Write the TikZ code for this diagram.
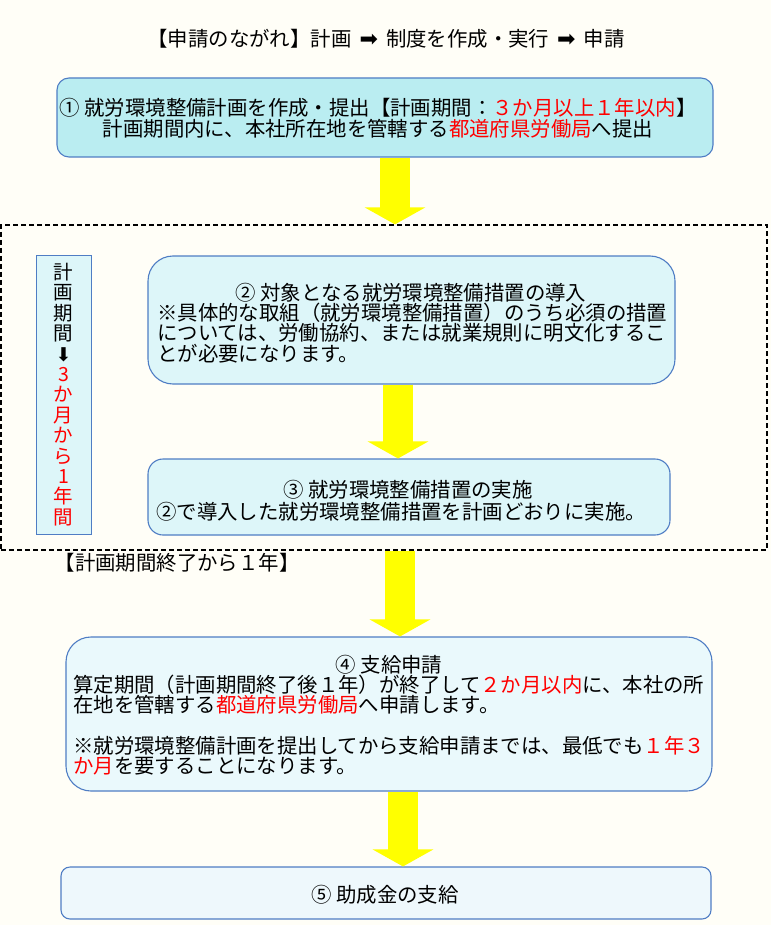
\documentclass[tikz,border=0pt]{standalone}
\usepackage{fontspec}
\setmainfont{Noto Sans CJK JP}
\newfontfamily\symfont{DejaVu Sans}
\usetikzlibrary{arrows.meta}
\definecolor{bgc}{RGB}{255,254,247}
\definecolor{bordc}{RGB}{79,125,196}
\definecolor{fillA}{RGB}{186,237,241}
\definecolor{fillB}{RGB}{221,246,249}
\definecolor{fillC}{RGB}{234,249,252}
\definecolor{fillD}{RGB}{238,248,252}
\definecolor{yarr}{RGB}{255,255,0}
\newcommand{\tarr}{\hspace{8pt}{\symfont\fontsize{22}{22}\selectfont ➡}\hspace{8pt}}
\tikzset{
  box/.style={draw=bordc, line width=1.1pt, rounded corners=#1, inner sep=0pt, shape=rectangle},
  txt/.style={inner sep=0pt, font=\fontsize{20.4}{20.5}\selectfont},
  bigarrow/.style={draw=yarr, line width=30pt, -{Triangle[width=60pt,length=17pt]}},
}
\begin{document}
\begin{tikzpicture}[x=1pt,y=-1pt]
\useasboundingbox (0,0) rectangle (771,925);
\fill[bgc] (0,0) rectangle (771,925);

% title
\node[txt] (title) at (386,39) {【申請のながれ】計画\tarr 制度を作成・実行\tarr 申請};

% box 1
\node[box=12, fill=fillA, minimum width=656pt, minimum height=79pt] (b1) at (385,117.5) {};
\node[txt, align=center] (t1) at (378,118) {① 就労環境整備計画を作成・提出【計画期間：\textcolor{red}{３か月以上１年以内}】\\計画期間内に、本社所在地を管轄する\textcolor{red}{都道府県労働局}へ提出};

% dashed frame
\node[draw=black, line width=1.2pt, dash pattern=on 5pt off 3pt, minimum width=766pt, minimum height=325pt, inner sep=0pt] (frame) at (384,387.5) {};

% vertical box
\node[draw=bordc, line width=1pt, fill=fillB, minimum width=55pt, minimum height=279pt, inner sep=0pt] (vbox) at (63.5,394.5) {};
\node[inner sep=0pt, align=center, font=\fontsize{19.5}{20.4}\selectfont] (vt) at (63.5,394.5) {計\\画\\期\\間\\{\symfont\fontsize{19}{19}\selectfont ⬇}\\\textcolor{red}{3}\\\textcolor{red}{か}\\\textcolor{red}{月}\\\textcolor{red}{か}\\\textcolor{red}{ら}\\\textcolor{red}{1}\\\textcolor{red}{年}\\\textcolor{red}{間}};

% box 2
\node[box=25, fill=fillB, minimum width=527pt, minimum height=128pt] (b2) at (411.5,320) {};
\node[txt] (h2) at (411,293) {② 対象となる就労環境整備措置の導入};
\node[txt, align=left, anchor=west] (t2) at (157,333) {※具体的な取組（就労環境整備措置）のうち必須の措置\\については、労働協約、または就業規則に明文化するこ\\とが必要になります。};

% box 3
\node[box=15, fill=fillB, minimum width=522pt, minimum height=76pt] (b3) at (409,497) {};
\node[txt] (h3) at (408,490) {③ 就労環境整備措置の実施};
\node[txt, anchor=west] (t3) at (156,512) {②で導入した就労環境整備措置を計画どおりに実施。};

% label
\node[txt] (lab) at (177,563) {【計画期間終了から１年】};

% box 4
\node[box=25, fill=fillC, minimum width=646pt, minimum height=154pt] (b4) at (389,714) {};
\node[txt] (h4) at (389,665) {④ 支給申請};
\node[txt, align=left, anchor=west] (t4) at (73,725) {算定期間（計画期間終了後１年）が終了して\textcolor{red}{２か月以内}に、本社の所\\在地を管轄する\textcolor{red}{都道府県労働局}へ申請します。\\[20pt]※就労環境整備計画を提出してから支給申請までは、最低でも\textcolor{red}{１年３}\\\textcolor{red}{か月}を要することになります。};

% box 5
\node[box=9, fill=fillD, minimum width=650pt, minimum height=52pt] (b5) at (386,893) {};
\node[txt] (t5) at (385,895) {⑤ 助成金の支給};

% arrows
\coordinate (ax1) at (395,0);
\coordinate (ax2) at (398,0);
\coordinate (ax3) at (400,0);
\coordinate (ax4) at (403,0);
\draw[bigarrow] (b1.south -| ax1) -- (frame.north -| ax1);
\draw[bigarrow] (b2.south -| ax2) -- (b3.north -| ax2);
\draw[bigarrow] (frame.south -| ax3) -- (b4.north -| ax3);
\draw[bigarrow] (b4.south -| ax4) -- (b5.north -| ax4);
\end{tikzpicture}
\end{document}
